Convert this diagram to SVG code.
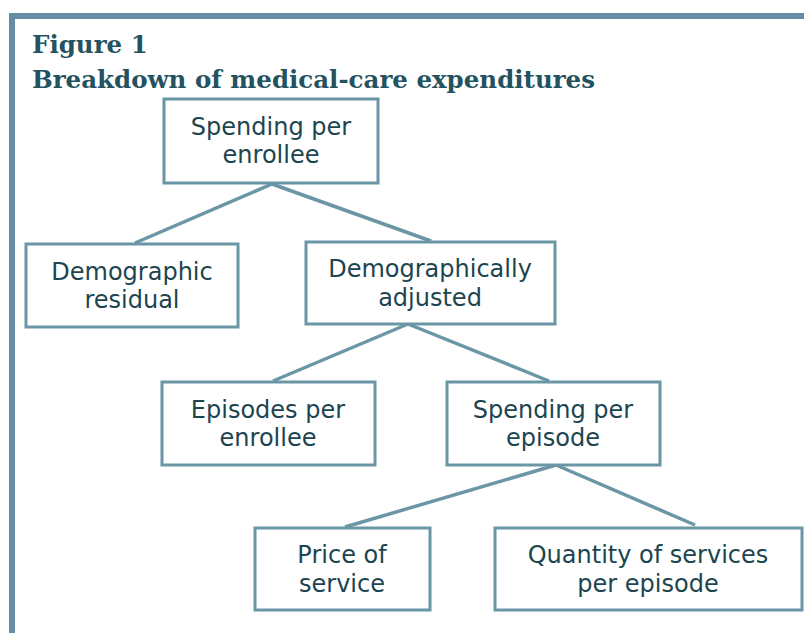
<svg xmlns="http://www.w3.org/2000/svg" width="804" height="633" viewBox="0 0 804 633">
  <style>
    .frame { fill: none; stroke: #658ea5; stroke-width: 6; }
    .title { font-family: "DejaVu Serif", "Liberation Serif", serif; font-weight: bold; font-size: 24.5px; fill: #25525f; }
    .box { fill: #ffffff; stroke: #6b96a6; stroke-width: 3; }
    .label { font-family: "DejaVu Sans", "Liberation Sans", sans-serif; font-size: 24px; fill: #1c4550; text-anchor: middle; }
    .edge { fill: none; stroke: #6b96a6; stroke-width: 3.5; stroke-linecap: butt; }
  </style>
  <rect width="804" height="633" fill="#ffffff"/>
  <path class="frame" d="M12,633 V16 H804"/>
  <text class="title" x="32" y="53">Figure 1</text>
  <text class="title" x="32" y="88">Breakdown of medical-care expenditures</text>

  <g id="connectors">
    <path class="edge" d="M272,184 L135,243 M272,184 L431,241"/>
    <path class="edge" d="M408,324 L273,381 M408,324 L549,381"/>
    <path class="edge" d="M556,465 L345,527 M556,465 L695,525"/>
  </g>

  <g id="spending-per-enrollee">
    <rect class="box" x="164" y="99" width="214" height="84"/>
    <text class="label" x="271" y="135">Spending per</text>
    <text class="label" x="271" y="163">enrollee</text>
  </g>
  <g id="demographic-residual">
    <rect class="box" x="26" y="244" width="212" height="83"/>
    <text class="label" x="132" y="280">Demographic</text>
    <text class="label" x="132" y="308">residual</text>
  </g>
  <g id="demographically-adjusted">
    <rect class="box" x="306" y="242" width="249" height="82"/>
    <text class="label" x="430" y="277">Demographically</text>
    <text class="label" x="430" y="306">adjusted</text>
  </g>
  <g id="episodes-per-enrollee">
    <rect class="box" x="162" y="382" width="213" height="83"/>
    <text class="label" x="268" y="418">Episodes per</text>
    <text class="label" x="268" y="446">enrollee</text>
  </g>
  <g id="spending-per-episode">
    <rect class="box" x="447" y="382" width="213" height="83"/>
    <text class="label" x="553" y="418">Spending per</text>
    <text class="label" x="553" y="446">episode</text>
  </g>
  <g id="price-of-service">
    <rect class="box" x="255" y="528" width="175" height="82"/>
    <text class="label" x="342" y="563">Price of</text>
    <text class="label" x="342" y="592">service</text>
  </g>
  <g id="quantity-of-services">
    <rect class="box" x="495" y="528" width="307" height="82"/>
    <text class="label" x="648" y="563">Quantity of services</text>
    <text class="label" x="648" y="592">per episode</text>
  </g>
</svg>
